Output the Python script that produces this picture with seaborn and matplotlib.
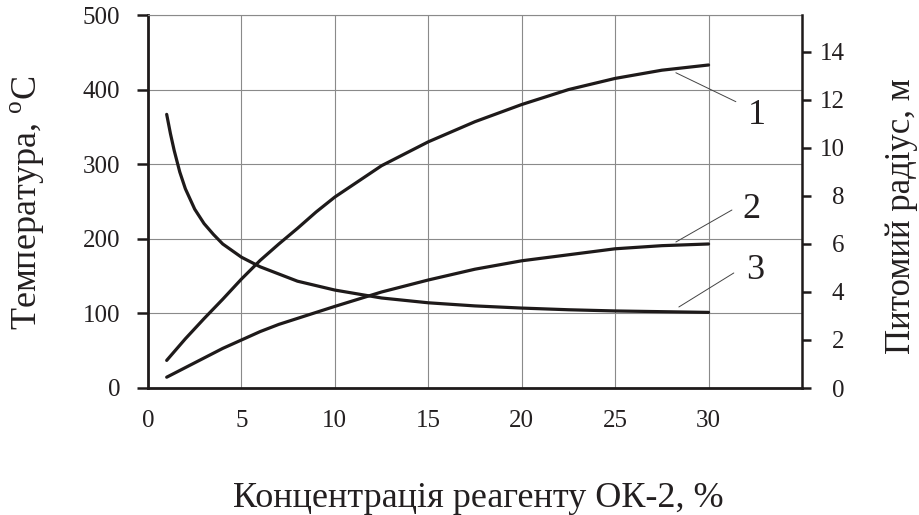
import numpy as np
import pandas as pd
import matplotlib
matplotlib.use("Agg")
import matplotlib.pyplot as plt
import seaborn as sns

# ---- data ----
# curve 1: temperature, °C (left axis)
x1 = [1, 2, 3, 4, 5, 6, 7, 8, 9, 10, 12.5, 15, 17.5, 20, 22.5, 25, 27.5, 30]
temp1 = [37, 66, 93, 119, 146, 171, 193, 214, 236, 256, 298, 330, 357, 380, 400, 415, 426, 433]

# curve 2: specific radius, m (right axis)
x2 = [1, 2, 3, 4, 5, 6, 7, 8, 10, 12.5, 15, 17.5, 20, 22.5, 25, 27.5, 30]
rad2 = [0.45, 0.85, 1.25, 1.65, 2.0, 2.35, 2.65, 2.9, 3.4, 4.0, 4.5, 4.95, 5.3, 5.55, 5.8, 5.93, 6.0]

# curve 3: specific radius, m (right axis)
x3 = [1, 1.2, 1.4, 1.7, 2, 2.5, 3, 3.5, 4, 5, 6, 7, 8, 10, 12.5, 15, 17.5, 20,
      22.5, 25, 27.5, 30]
rad3 = [11.4, 10.6, 9.9, 9.0, 8.3, 7.45, 6.85, 6.4, 6.0, 5.45, 5.05, 4.75, 4.45,
        4.08, 3.75, 3.55, 3.42, 3.33, 3.26, 3.21, 3.18, 3.15]

x_ticks = [0, 5, 10, 15, 20, 25, 30, 35]
x_ticklabels = ["0", "5", "10", "15", "20", "25", "30", ""]
left_ticks = [0, 100, 200, 300, 400, 500]
right_ticks = [0, 2, 4, 6, 8, 10, 12, 14]

curve_labels = ["1", "2", "3"]
label_xy = [(32.6, 365), (32.3, 239), (32.5, 157)]          # in left-axis units
leader_from = [(31.46, 383.8), (31.25, 238.6), (31.35, 154.2)]
leader_to = [(28.25, 422.6), (28.25, 195.7), (28.41, 108.6)]

xlabel = "Концентрація реагенту ОК-2, %"
ylabel_left = "Температура, $^{\\rm o}$C"
ylabel_right = "Питомий радіус, м"

# ---- style ----
sns.set_style("white")
plt.rcParams["font.family"] = ["Liberation Serif", "DejaVu Serif"]
plt.rcParams["mathtext.fontset"] = "custom"
plt.rcParams["mathtext.rm"] = "Liberation Serif"

ink = "#1e1a1a"
gridc = "#8a8a8a"
txt = "#231f20"

fig = plt.figure(figsize=(9.2, 5.15), dpi=100)
ax = fig.add_axes([148 / 920, 1 - 388 / 515, (802 - 148) / 920, (388 - 15) / 515])
ax2 = ax.twinx()

df1 = pd.DataFrame({"x": x1, "y": temp1})
df2 = pd.DataFrame({"x": x2, "y": rad2})
df3 = pd.DataFrame({"x": x3, "y": rad3})

sns.lineplot(data=df1, x="x", y="y", ax=ax, color=ink, lw=2.3)
sns.lineplot(data=df2, x="x", y="y", ax=ax2, color=ink, lw=2.3)
sns.lineplot(data=df3, x="x", y="y", ax=ax2, color=ink, lw=2.3)

ax.set_xlim(0, 35)
ax.set_ylim(0, 500)
ax2.set_ylim(0, 15.54)

ax.set_xticks(x_ticks)
ax.set_xticklabels(x_ticklabels)
ax.set_yticks(left_ticks)
ax2.set_yticks(right_ticks)

ax.grid(True, color=gridc, lw=0.8)
ax.set_axisbelow(True)
ax2.grid(False)

ax.set_xlabel("")
ax.set_ylabel("")
ax2.set_ylabel("")

for s in ["left", "bottom"]:
    ax.spines[s].set_color(ink)
    ax.spines[s].set_linewidth(2.0)
ax.spines["top"].set_color(gridc)
ax.spines["top"].set_linewidth(0.8)
ax.spines["right"].set_visible(False)
for s in ["left", "bottom", "top"]:
    ax2.spines[s].set_visible(False)
ax2.spines["right"].set_color(ink)
ax2.spines["right"].set_linewidth(1.8)

ax.tick_params(axis="y", direction="out", length=8, width=1.8, pad=12,
               labelsize=18, colors=ink, labelcolor=txt)
ax.tick_params(axis="x", direction="inout", length=11, width=1.5, pad=10,
               labelsize=18, colors=ink, labelcolor=txt)
ax2.tick_params(axis="y", direction="out", length=6.5, width=1.8, pad=24,
                labelsize=18, colors=ink, labelcolor=txt)
for lab in ax2.get_yticklabels():
    lab.set_horizontalalignment("right")

# curve labels with leader lines
for t, (lx, ly), p0, p1 in zip(curve_labels, label_xy, leader_from, leader_to):
    ax.annotate("", xy=p1, xytext=p0,
                arrowprops=dict(arrowstyle="-", color="#444444", lw=0.7,
                                shrinkA=0, shrinkB=0))
    ax.text(lx, ly, t, fontsize=26, ha="center", va="center", color=txt)

fig.text(478 / 920, 1 - 507 / 515, xlabel, fontsize=26, ha="center",
         va="baseline", color=txt)
fig.text(28 / 920, 1 - 203 / 515, ylabel_left, fontsize=26, rotation=90,
         ha="center", va="center", color=txt)
fig.text(902 / 920, 1 - 216 / 515, ylabel_right, fontsize=25, rotation=90,
         ha="center", va="center", color=txt)

fig.savefig("out.png", dpi=100)
